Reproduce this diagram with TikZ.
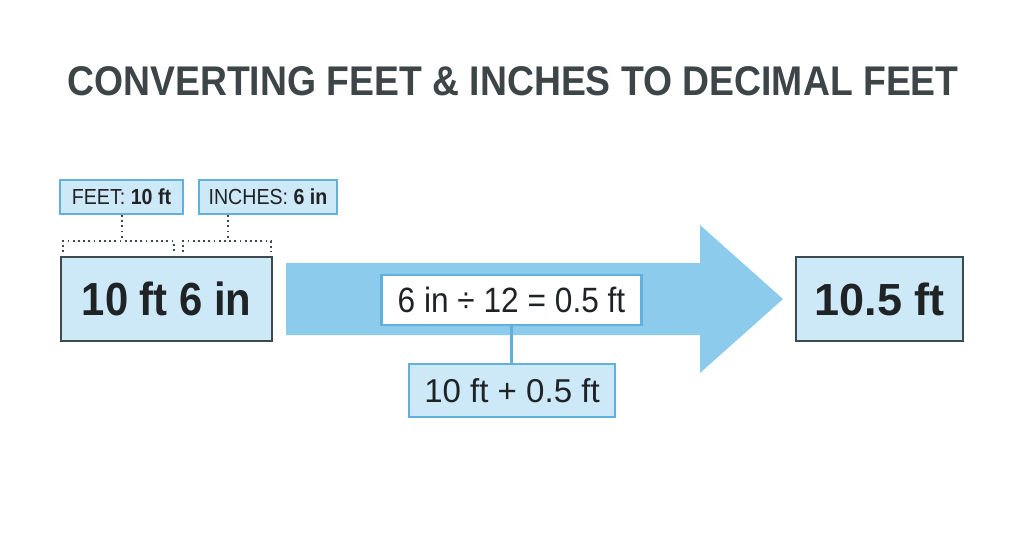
\documentclass[tikz,border=0pt]{standalone}
\usepackage{fontspec}
\setmainfont{Liberation Sans}
\newfontfamily\narrowfont[FakeStretch=0.9]{Liberation Sans}
\usepackage{tikz}
\definecolor{arrowblue}{HTML}{8DCBEC}
\definecolor{boxfill}{HTML}{CDE8F6}
\definecolor{boxline}{HTML}{62B0DD}
\definecolor{darkline}{HTML}{3D4A50}
\definecolor{titlegray}{HTML}{3D4548}
\definecolor{textdark}{HTML}{1F2326}
\def\px{0.025cm}
\tikzset{
  valuebox/.style={draw=darkline,line width=1.5pt,fill=boxfill,text=textdark,inner sep=0pt},
  labelbox/.style={draw=boxline,line width=1.5pt,fill=boxfill,text=textdark,inner sep=0pt,font=\narrowfont\fontsize{15.5}{18}\selectfont},
  stepbox/.style={draw=boxline,line width=1.5pt,text=textdark,inner sep=0pt},
  bracket/.style={draw=darkline,line width=1.3pt,dash pattern=on 1.3pt off 2.4pt}
}
\begin{document}
\begin{tikzpicture}[x=\px,y=-\px]
\fill[white](0,0)rectangle(1024,541);
\useasboundingbox(0,0)rectangle(1024,541);
%title
\node[anchor=base,text=titlegray,font=\narrowfont\fontsize{29.5}{36}\bfseries\selectfont](title)at(513,95){CONVERTING FEET \& INCHES TO DECIMAL FEET};
%arrow
\fill[arrowblue](286,263)--(700,263)--(700,225)--(783,299)--(700,373)--(700,335)--(286,335)--cycle;
%boxes
\node[valuebox,minimum width=211*\px,minimum height=84*\px,font=\narrowfont\fontsize{33}{40}\bfseries\selectfont](start)at(166.5,299){10 ft 6 in};
\node[valuebox,minimum width=167*\px,minimum height=84*\px,font=\fontsize{32}{38}\bfseries\selectfont](result)at(879.5,299){10.5 ft};
\node[labelbox,minimum width=123*\px,minimum height=34*\px](feet)at(121.5,197){FEET: \textbf{10 ft}};
\node[labelbox,minimum width=138*\px,minimum height=34*\px](inches)at(268,197){INCHES: \textbf{6 in}};
\node[stepbox,fill=white,minimum width=260*\px,minimum height=50*\px,font=\narrowfont\fontsize{25}{30}\selectfont](divide)at(511.5,300){6 in ÷ 12 = 0.5 ft};
\node[stepbox,fill=boxfill,minimum width=206*\px,minimum height=53*\px,font=\fontsize{23.5}{28}\selectfont](sum)at(512,390.5){10 ft + 0.5 ft};
%brackets
\coordinate(fb)at(122,241);
\coordinate(ib)at(228,241);
\draw[bracket](63,252)|-(174,241)--(174,252);
\draw[bracket](183,252)|-(271,241)--(271,252);
\draw[bracket](fb|-feet.south)--(fb);
\draw[bracket](ib|-inches.south)--(ib);
%link
\draw[draw=boxline,line width=1.5pt](divide.south)--(divide.south|-sum.north);
\end{tikzpicture}
\end{document}
